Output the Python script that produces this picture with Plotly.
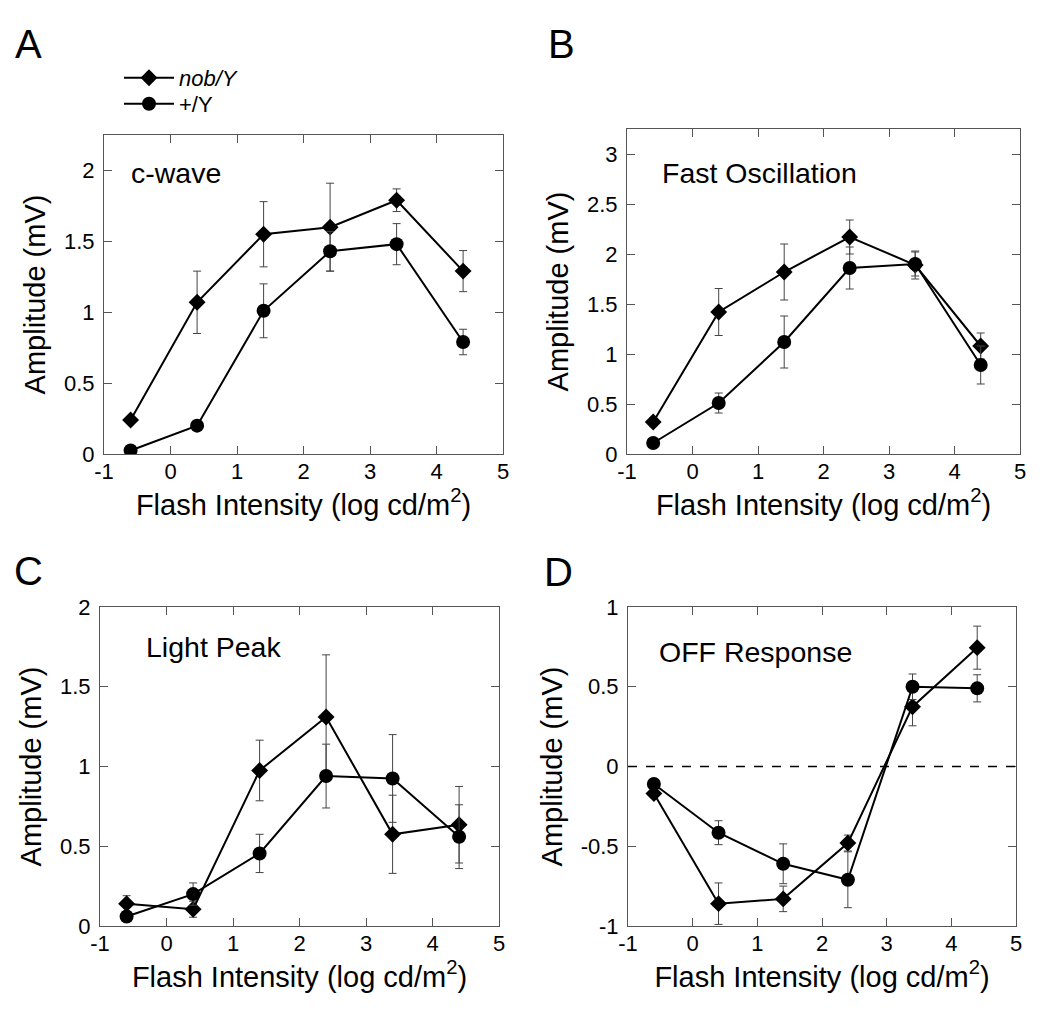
import plotly.graph_objects as go

OFF = 8  # page body margin in the browser
W, H = 1050 - 2 * OFF, 1019 - 2 * OFF

x_int = [-0.6, 0.4, 1.4, 2.4, 3.4, 4.4]

# Panel A: c-wave
a_nob = [0.24, 1.07, 1.55, 1.60, 1.79, 1.29]
a_nob_err = [0.02, 0.22, 0.23, 0.31, 0.08, 0.145]
a_wt = [0.025, 0.20, 1.01, 1.43, 1.48, 0.79]
a_wt_err = [0.01, 0.02, 0.19, 0.14, 0.145, 0.09]

# Panel B: Fast Oscillation
b_nob = [0.32, 1.42, 1.82, 2.17, 1.89, 1.08]
b_nob_err = [0.04, 0.235, 0.28, 0.17, 0.14, 0.13]
b_wt = [0.11, 0.51, 1.12, 1.86, 1.90, 0.89]
b_wt_err = [0.02, 0.10, 0.26, 0.21, 0.12, 0.19]

# Panel C: Light Peak
c_nob = [0.14, 0.105, 0.975, 1.31, 0.575, 0.635]
c_nob_err = [0.05, 0.05, 0.19, 0.39, 0.245, 0.24]
c_wt = [0.06, 0.20, 0.455, 0.94, 0.925, 0.56]
c_wt_err = [0.02, 0.07, 0.12, 0.20, 0.275, 0.20]

# Panel D: OFF Response
d_nob = [-0.17, -0.86, -0.83, -0.48, 0.375, 0.745]
d_nob_err = [0.02, 0.13, 0.08, 0.05, 0.12, 0.135]
d_wt = [-0.11, -0.415, -0.61, -0.71, 0.50, 0.49]
d_wt_err = [0.02, 0.075, 0.125, 0.175, 0.08, 0.085]

panel_titles = ["c-wave", "Fast Oscillation", "Light Peak", "OFF Response"]
panel_letters = ["A", "B", "C", "D"]
series_names = ["<i>nob/Y</i>", "+/Y"]
y_ranges = [[0, 2.25], [0, 3.25], [0, 2], [-1, 1]]
x_tickvals = [-1, 0, 1, 2, 3, 4, 5]
x_ticktext = ["-1", "0", "1", "2", "3", "4", "5"]
y_tickvals = [
    [0, 0.5, 1, 1.5, 2],
    [0, 0.5, 1, 1.5, 2, 2.5, 3],
    [0, 0.5, 1, 1.5, 2],
    [-1, -0.5, 0, 0.5, 1],
]
y_ticktext = [
    ["0", "0.5", "1", "1.5", "2"],
    ["0", "0.5", "1", "1.5", "2", "2.5", "3"],
    ["0", "0.5", "1", "1.5", "2"],
    ["-1", "-0.5", "0", "0.5", "1"],
]
x_title = "Flash Intensity (log cd/m<sup>2</sup>)"
y_title = "Amplitude (mV)"

# screen pixel boxes of each plot area (left, right, top, bottom)
boxes = [(104, 503, 135, 454), (627, 1020, 129, 454),
         (100, 499, 607, 926), (628, 1016, 607, 926)]
# panel label positions inside each box (domain fractions)
label_pos = [(0.063, 0.881), (0.085, 0.865), (0.11, 0.875), (0.074, 0.859)]


def px_x(x):
    return (x - OFF) / W


def px_y(y):
    return 1 - (y - OFF) / H


FONT = "Arial, Liberation Sans, Helvetica, sans-serif"

fig = go.Figure()

data = [(a_nob, a_nob_err, a_wt, a_wt_err),
        (b_nob, b_nob_err, b_wt, b_wt_err),
        (c_nob, c_nob_err, c_wt, c_wt_err),
        (d_nob, d_nob_err, d_wt, d_wt_err)]

for i, (nob, nob_err, wt, wt_err) in enumerate(data):
    sfx = "" if i == 0 else str(i + 1)
    for k, (name, ys, es, sym, size) in enumerate(
            [(series_names[0], nob, nob_err, "diamond", 13),
             (series_names[1], wt, wt_err, "circle", 14)]):
        fig.add_trace(go.Scatter(
            x=x_int, y=ys, mode="lines+markers", name=name,
            showlegend=(i == 0), legendgroup=name,
            legend="legend" if k == 0 else "legend2",
            line=dict(color="black", width=2),
            marker=dict(symbol=sym, size=size, color="black"),
            error_y=dict(type="data", array=es, visible=True,
                         color="#444", thickness=1, width=4),
            xaxis="x" + sfx, yaxis="y" + sfx,
        ))

leg_common = dict(xanchor="left", yanchor="top", bgcolor="rgba(0,0,0,0)",
                  font=dict(size=22, family=FONT), itemwidth=50)

layout = dict(
    width=W, height=H,
    margin=dict(l=0, r=0, t=0, b=0),
    paper_bgcolor="white", plot_bgcolor="white",
    font=dict(family=FONT, color="black"),
    showlegend=True,
    legend=dict(leg_common, x=px_x(119), y=px_y(57)),
    legend2=dict(leg_common, x=px_x(119), y=px_y(83)),
)

annotations = []
for i, (l, r, t, b) in enumerate(boxes):
    sfx = "" if i == 0 else str(i + 1)
    ax_common = dict(
        showline=True, linecolor="#555", linewidth=1, mirror="ticks",
        ticks="inside", ticklen=8, tickcolor="#555", tickwidth=1,
        showgrid=False, zeroline=False, automargin=False,
        tickfont=dict(size=22, family=FONT, color="black"),
    )
    layout["xaxis" + sfx] = dict(
        ax_common, domain=[px_x(l), px_x(r)], range=[-1, 5],
        tickmode="array", tickvals=x_tickvals, ticktext=x_ticktext,
        anchor="y" + sfx, ticklabelstandoff=-2,
        title=dict(text=x_title, font=dict(size=29, family=FONT), standoff=0),
    )
    layout["yaxis" + sfx] = dict(
        ax_common, domain=[px_y(b), px_y(t)], range=y_ranges[i],
        tickmode="array", tickvals=y_tickvals[i], ticktext=y_ticktext[i],
        anchor="x" + sfx, ticklabelstandoff=4,
        title=dict(text=y_title, font=dict(size=29, family=FONT), standoff=9),
    )
    annotations.append(dict(
        text=panel_titles[i], xref="x" + sfx + " domain", yref="y" + sfx + " domain",
        x=label_pos[i][0], y=label_pos[i][1],
        xanchor="left", yanchor="middle", showarrow=False,
        font=dict(size=28.5, family=FONT)))

letter_pos = [(13, 44), (546, 44), (12, 571), (542, 572)]
for i, (px, py) in enumerate(letter_pos):
    annotations.append(dict(
        text=panel_letters[i], xref="paper", yref="paper",
        x=px_x(px), y=px_y(py), xanchor="left", yanchor="middle",
        showarrow=False, font=dict(size=40, family=FONT)))

layout["annotations"] = annotations
fig.update_layout(**layout)

# dashed zero line in panel D
fig.add_shape(type="line", xref="x4 domain", yref="y4", x0=0, x1=1, y0=0, y1=0,
              line=dict(color="black", width=1.5, dash="dash"))

fig.write_html("out.html")
